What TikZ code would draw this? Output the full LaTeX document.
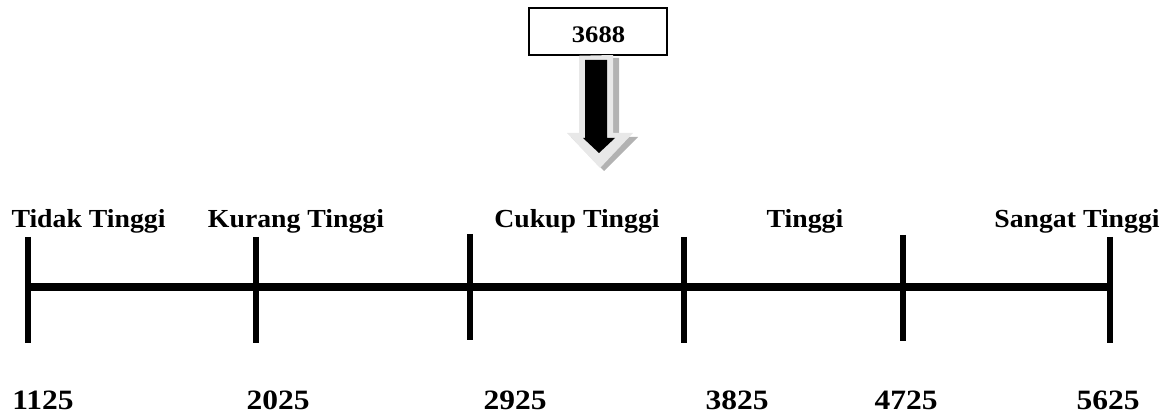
\documentclass[tikz,border=0pt]{standalone}
\usepackage{fontspec}
\setmainfont{Liberation Serif}
\begin{document}
\begin{tikzpicture}[x=0.75pt,y=-0.75pt,
  lbl/.style={font=\bfseries\fontsize{19.5}{23}\selectfont, inner sep=0pt, anchor=base, xscale=1.067},
  num/.style={font=\bfseries\fontsize{21}{25}\selectfont, inner sep=0pt, anchor=base, xscale=1.125},
  tick/.style={line width=4.2pt},
  axis/.style={line width=6.3pt},
  valbox/.style={draw, line width=1.4pt, minimum width=104pt, minimum height=35pt, inner sep=0pt}]
\useasboundingbox (0,0) rectangle (1167,416);
% axis
\coordinate (a0) at (28,287);
\coordinate (a5) at (1110,287);
\draw[axis] (a0) -- (a5);
% ticks
\foreach \i/\x/\t/\b in {0/28/237/343, 1/256/237/343, 2/470/234/340, 3/684/237/343, 4/903/235/341, 5/1110/237/343}{
  \coordinate (t\i) at (\x,\t);
  \coordinate (b\i) at (\x,\b);
  \draw[tick] (t\i) -- (b\i);
}
% category labels
\node[lbl] (l0) at (88.5,228) {Tidak Tinggi};
\node[lbl] (l1) at (296,228) {Kurang Tinggi};
\node[lbl] (l2) at (577,228) {Cukup Tinggi};
\node[lbl] (l3) at (805,228) {Tinggi};
\node[lbl] (l4) at (1077,228) {Sangat Tinggi};
% numbers
\node[num] (n0) at (43,409) {1125};
\node[num] (n1) at (278,409) {2025};
\node[num] (n2) at (515,409) {2925};
\node[num] (n3) at (737,409) {3825};
\node[num] (n4) at (906,409) {4725};
\node[num] (n5) at (1108,409) {5625};
% value box
\node[valbox] (v) at (598,31.5) {};
\node[font=\bfseries\fontsize{17.8}{21}\selectfont, inner sep=0pt, anchor=base, xscale=1.12] (vt) at (598.5,43) {3688};
% block arrow (shadow, light, black)
\fill[gray!60] (584,58) -- (619,58) -- (619,137) -- (638,137) -- (604,171) -- (571,137) -- (584,137) -- cycle;
\fill[gray!18] (v.south -| 579,0) -- (613,55) -- (613,133) -- (633,133) -- (600,168) -- (567,133) -- (579,133) -- cycle;
\fill[black] (585,60) -- (607,60) -- (607,138) -- (615,138) -- (599,153) -- (583,138) -- (585,138) -- cycle;
\end{tikzpicture}
\end{document}
